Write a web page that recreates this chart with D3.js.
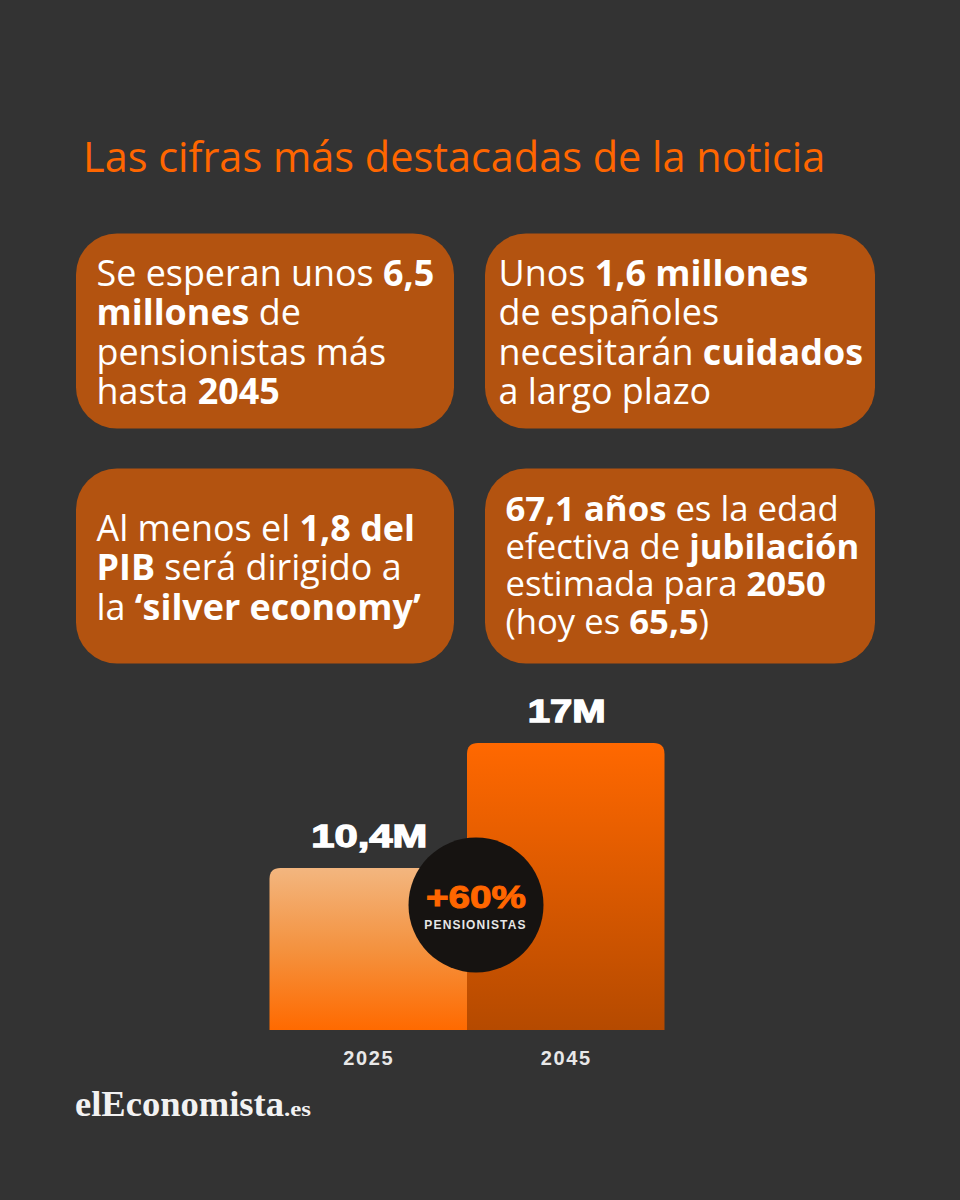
<!DOCTYPE html>
<html><head><meta charset="utf-8">
<script src="https://d3js.org/d3.v7.min.js"></script>
<style>html,body{margin:0;padding:0;background:#333333}svg{display:block}</style>
</head><body><svg id="c" width="960" height="1200"></svg>
<script>
const years = ["2025", "2045"];
const pensioners = [10.4, 17];
const valueLabels = ["10,4M", "17M"];
const valueLabelWidths = [116, 78];
const title = "Las cifras más destacadas de la noticia";
const card1 = [[["Se esperan unos ",0],["6,5",1]],[["millones",1],[" de",0]],[["pensionistas más",0]],[["hasta ",0],["2045",1]]];
const card2 = [[["Unos ",0],["1,6 millones",1]],[["de españoles",0]],[["necesitarán ",0],["cuidados",1]],[["a largo plazo",0]]];
const card3 = [[["Al menos el ",0],["1,8 del",1]],[["PIB",1],[" será dirigido a",0]],[["la ",0],["‘silver economy’",1]]];
const card4 = [[["67,1 años",1],[" es la edad",0]],[["efectiva de ",0],["jubilación",1]],[["estimada para ",0],["2050",1]],[["(hoy es ",0],["65,5",1],[")",0]]];
const cards = [
 {x:76,y:233.5,w:378,h:195,tx:96.5,ty:286,lh:39.3,fs:35.9,rows:card1},
 {x:485,y:233.5,w:390,h:195,tx:498.5,ty:286,lh:39.3,fs:35.9,rows:card2},
 {x:76,y:468.5,w:378,h:195,tx:96.5,ty:541,lh:39.3,fs:35.9,rows:card3},
 {x:485,y:468.5,w:390,h:195,tx:505.5,ty:521,lh:37.7,fs:34.7,rows:card4}
];
const svg = d3.select("#c");
const defs = svg.append("defs");
function grad(id,stops){
 const g=defs.append("linearGradient").attr("id",id).attr("x1",0).attr("x2",0).attr("y1",0).attr("y2",1);
 stops.forEach(s=>g.append("stop").attr("offset",s[0]).attr("stop-color",s[1]));
}
grad("g0",[[0,"#f3b67f"],[0.5,"#f4923f"],[1,"#ff6a00"]]);
grad("g1",[[0,"#ff6800"],[1,"#b54a00"]]);

svg.append("text").attr("x",83).attr("y",172).attr("font-family","Open Sans").attr("font-size",41.45)
 .attr("fill","#ff6600").text(title);

cards.forEach(c=>{
 svg.append("rect").attr("x",c.x).attr("y",c.y).attr("width",c.w).attr("height",c.h).attr("rx",41).attr("fill","#b35310");
 const t=svg.append("text").attr("font-family","Open Sans").attr("font-size",c.fs).attr("fill","#fff");
 c.rows.forEach((r,i)=>{
  r.forEach((s,j)=>{
   const sp=t.append("tspan").attr("font-weight",s[1]?700:400).style("white-space","pre").text(s[0]);
   if(j===0) sp.attr("x",c.tx).attr("y",c.ty+i*c.lh);
  });
 });
});

const x=d3.scaleBand().domain(years).range([269.5,664.5]).padding(0);
const y=d3.scaleLinear().domain([1.85,17]).range([1030,743]);
function barPath(x0,w,top,bot,r){
 const p=d3.path();
 p.moveTo(x0,bot);p.lineTo(x0,top+r);p.quadraticCurveTo(x0,top,x0+r,top);
 p.lineTo(x0+w-r,top);p.quadraticCurveTo(x0+w,top,x0+w,top+r);p.lineTo(x0+w,bot);p.closePath();
 return p.toString();
}
svg.selectAll("path.bar").data(years).join("path").attr("class","bar")
 .attr("d",(d,i)=>barPath(x(d),x.bandwidth(),y(pensioners[i]),y.range()[0],11))
 .attr("fill",(d,i)=>`url(#g${i})`);
svg.selectAll("text.val").data(years).join("text").attr("class","val")
 .attr("x",d=>x(d)+x.bandwidth()/2+1).attr("y",(d,i)=>y(pensioners[i])-21)
 .attr("text-anchor","middle").attr("font-family","Liberation Sans").attr("font-weight",700)
 .attr("font-size",32).attr("fill","#fff").attr("stroke","#fff").attr("stroke-width",1.3)
 .attr("textLength",(d,i)=>valueLabelWidths[i]).attr("lengthAdjust","spacingAndGlyphs")
 .text((d,i)=>valueLabels[i]);
svg.selectAll("text.yr").data(years).join("text").attr("class","yr")
 .attr("x",d=>x(d)+x.bandwidth()/2+.5).attr("y",1065)
 .attr("text-anchor","middle").attr("font-family","Liberation Sans").attr("font-weight",700)
 .attr("font-size",20).attr("letter-spacing",1.6).attr("fill","#e8e8e8").text(d=>d);

svg.append("circle").attr("cx",476).attr("cy",905).attr("r",67.5).attr("fill","#161311");
svg.append("text").attr("x",476).attr("y",908).attr("text-anchor","middle").attr("font-family","Liberation Sans")
 .attr("font-weight",700).attr("font-size",32).attr("fill","#ff6600").attr("stroke","#ff6600").attr("stroke-width",1)
 .attr("textLength",100).attr("lengthAdjust","spacingAndGlyphs").text("+60%");
svg.append("text").attr("x",475.5).attr("y",929).attr("text-anchor","middle").attr("font-family","Liberation Sans")
 .attr("font-weight",700).attr("font-size",12).attr("letter-spacing",1.15).attr("fill","#e6e6e6").text("PENSIONISTAS");

svg.append("text").attr("x",75).attr("y",1115.5).attr("font-family","Liberation Serif").attr("font-weight",700).attr("fill","#f2f2f2")
 .attr("font-size",35).attr("textLength",209).attr("lengthAdjust","spacingAndGlyphs").text("elEconomista");
svg.append("text").attr("x",284).attr("y",1115.5).attr("font-family","Liberation Serif").attr("font-weight",700).attr("fill","#f2f2f2")
 .attr("font-size",22).attr("textLength",27).attr("lengthAdjust","spacingAndGlyphs").text(".es");
</script></body></html>
